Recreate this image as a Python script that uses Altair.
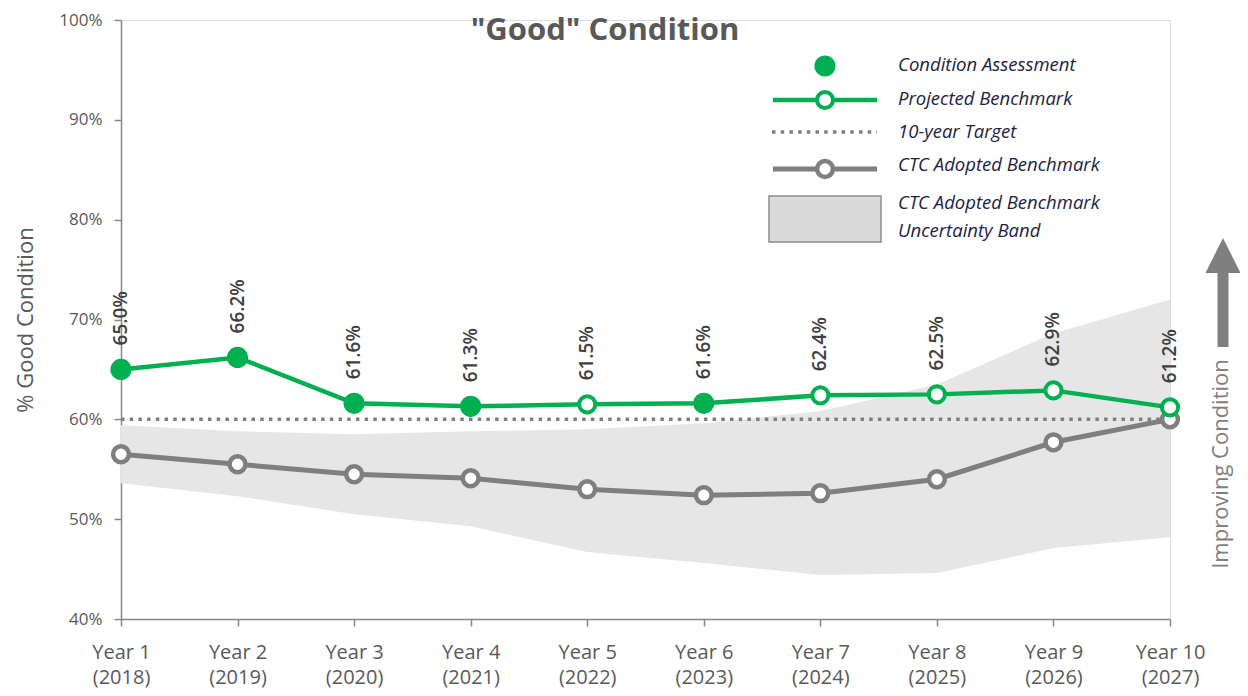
import altair as alt
import pandas as pd

# ---------------- data ----------------
categories = ["Year 1|(2018)", "Year 2|(2019)", "Year 3|(2020)", "Year 4|(2021)", "Year 5|(2022)",
              "Year 6|(2023)", "Year 7|(2024)", "Year 8|(2025)", "Year 9|(2026)", "Year 10|(2027)"]
projected = [0.650, 0.662, 0.616, 0.613, 0.615, 0.616, 0.624, 0.625, 0.629, 0.612]
assessed = [True, True, True, True, False, True, False, False, False, False]
ctc_adopted = [0.565, 0.555, 0.545, 0.541, 0.530, 0.524, 0.526, 0.540, 0.577, 0.600]
band_upper = [0.594, 0.588, 0.585, 0.588, 0.590, 0.596, 0.608, 0.635, 0.686, 0.720]
band_lower = [0.536, 0.523, 0.505, 0.493, 0.467, 0.456, 0.444, 0.446, 0.471, 0.482]
target = 0.60
y_ticks = [0.4, 0.5, 0.6, 0.7, 0.8, 0.9, 1.0]

df = pd.DataFrame({
    "cat": categories,
    "projected": projected,
    "assessed": assessed,
    "ctc": ctc_adopted,
    "upper": band_upper,
    "lower": band_lower,
})
one = pd.DataFrame({"k": [0]})

GREEN = "#00B050"
GRAY = "#7F7F7F"
AXIS = "#868686"
TXT = "#595959"
LEG = "#22223F"
FONT = "Open Sans"
W, H = 1049, 599

xenc = alt.X("cat:N", sort=categories,
             scale=alt.Scale(type="point", padding=0, domain=categories),
             axis=alt.Axis(title=None, labelExpr="split(datum.label, '|')", labelAngle=0,
                           labelFontSize=20, labelColor=TXT, labelFont=FONT, labelLineHeight=25,
                           labelPadding=16, tickSize=7, tickColor=AXIS, domainColor=AXIS,
                           domainWidth=1.5, tickWidth=1.5, grid=False, labelBaseline="top"))
yscale = alt.Scale(domain=[0.4, 1.0], nice=False, zero=False)
yaxis = alt.Axis(format="%", values=y_ticks, grid=False, tickSize=7, tickColor=AXIS,
                 domainColor=AXIS, domainWidth=1.5, tickWidth=1.5, labelColor=TXT,
                 labelFontSize=17, labelFont=FONT, labelPadding=12,
                 title="% Good Condition", titleFontSize=22, titleFontWeight="normal",
                 titleColor=TXT, titleFont=FONT, titlePadding=21)

base = alt.Chart(df)

band = base.mark_area(color="#E6E6E6", opacity=1).encode(
    x=xenc, y=alt.Y("upper:Q", scale=yscale, axis=yaxis), y2="lower:Q")

target_line = alt.Chart(one).mark_rule(color=GRAY, strokeWidth=3.5, strokeDash=[3.5, 5.2]).encode(
    y=alt.datum(target), x=alt.value(0), x2=alt.value(W))

ctc_line = base.mark_line(color=GRAY, strokeWidth=5).encode(x=xenc, y=alt.Y("ctc:Q", scale=yscale))
ctc_pts = base.mark_point(shape="circle", filled=True, fill="white", stroke=GRAY, strokeWidth=4.5,
                          size=250, opacity=1).encode(x=xenc, y=alt.Y("ctc:Q", scale=yscale))

green_line = base.mark_line(color=GREEN, strokeWidth=4.5).encode(
    x=xenc, y=alt.Y("projected:Q", scale=yscale))
green_filled = base.transform_filter("datum.assessed").mark_point(
    shape="circle", filled=True, color=GREEN, size=450, opacity=1).encode(
    x=xenc, y=alt.Y("projected:Q", scale=yscale))
green_open = base.transform_filter("!datum.assessed").mark_point(
    shape="circle", filled=True, fill="white", stroke=GREEN, strokeWidth=4, size=260,
    opacity=1).encode(x=xenc, y=alt.Y("projected:Q", scale=yscale))
labels = base.mark_text(angle=270, align="left", baseline="middle", dx=24, fontSize=19,
                        fontWeight=600, color="#404040", font=FONT).encode(
    x=xenc, y=alt.Y("projected:Q", scale=yscale), text=alt.Text("projected:Q", format=".1%"))

# ---------------- title ----------------
title = alt.Chart(one).mark_text(text='"Good" Condition', fontSize=31, fontWeight="bold",
                                 color=TXT, font=FONT, align="center", baseline="middle").encode(
    x=alt.value(484), y=alt.value(11))

# ---------------- legend ----------------
LX = 704
TX = 777
leg = []
leg.append(alt.Chart(one).mark_point(shape="circle", filled=True, color=GREEN, size=450, opacity=1)
           .encode(x=alt.value(LX), y=alt.value(46)))
leg.append(alt.Chart(one).mark_rule(color=GREEN, strokeWidth=4.5)
           .encode(x=alt.value(652), x2=alt.value(756), y=alt.value(80)))
leg.append(alt.Chart(one).mark_point(shape="circle", filled=True, fill="white", stroke=GREEN,
                                     strokeWidth=4, size=260, opacity=1)
           .encode(x=alt.value(LX), y=alt.value(80)))
leg.append(alt.Chart(one).mark_rule(color=GRAY, strokeWidth=3.5, strokeDash=[3.5, 5.2])
           .encode(x=alt.value(651), x2=alt.value(756), y=alt.value(112)))
leg.append(alt.Chart(one).mark_rule(color=GRAY, strokeWidth=5)
           .encode(x=alt.value(652), x2=alt.value(756), y=alt.value(149)))
leg.append(alt.Chart(one).mark_point(shape="circle", filled=True, fill="white", stroke=GRAY,
                                     strokeWidth=4.5, size=250, opacity=1)
           .encode(x=alt.value(LX), y=alt.value(149)))
leg.append(alt.Chart(one).mark_rect(fill="#DADADA", stroke="#8C8C8C", strokeWidth=1.5)
           .encode(x=alt.value(648), x2=alt.value(760), y=alt.value(176), y2=alt.value(222)))
legend_texts = [("Condition Assessment", 45), ("Projected Benchmark", 79), ("10-year Target", 112),
                ("CTC Adopted Benchmark", 145), ("CTC Adopted Benchmark", 183),
                ("Uncertainty Band", 211)]
for t, yy in legend_texts:
    leg.append(alt.Chart(one).mark_text(text=t, fontSize=18.5, fontStyle="italic", color=LEG,
                                        font=FONT, align="left", baseline="middle")
               .encode(x=alt.value(TX), y=alt.value(yy)))

# ---------------- arrow ----------------
arrow_shaft = alt.Chart(one).mark_rule(color=GRAY, strokeWidth=11).encode(
    x=alt.value(1102), y=alt.value(250), y2=alt.value(327))
arrow_head = alt.Chart(one).mark_point(shape="M0,-1L0.5,0L-0.5,0Z", filled=True, color=GRAY,
                                       size=4900, opacity=1).encode(
    x=alt.value(1102), y=alt.value(253))
arrow_text = alt.Chart(one).mark_text(text="Improving Condition", angle=270, fontSize=22,
                                      color=GRAY, font=FONT, align="center",
                                      baseline="middle").encode(
    x=alt.value(1100), y=alt.value(444))

chart = alt.layer(
    band, target_line, ctc_line, ctc_pts, green_line, green_filled, green_open, labels,
    title, *leg, arrow_shaft, arrow_head, arrow_text
).properties(
    width=W, height=H,
    autosize=alt.AutoSizeParams(type="none"),
    padding={"left": 113, "top": 12, "right": 70, "bottom": 69},
).configure_view(stroke=None).configure(background="white")

chart.save("out.html", embed_options={"renderer": "svg", "actions": False})
